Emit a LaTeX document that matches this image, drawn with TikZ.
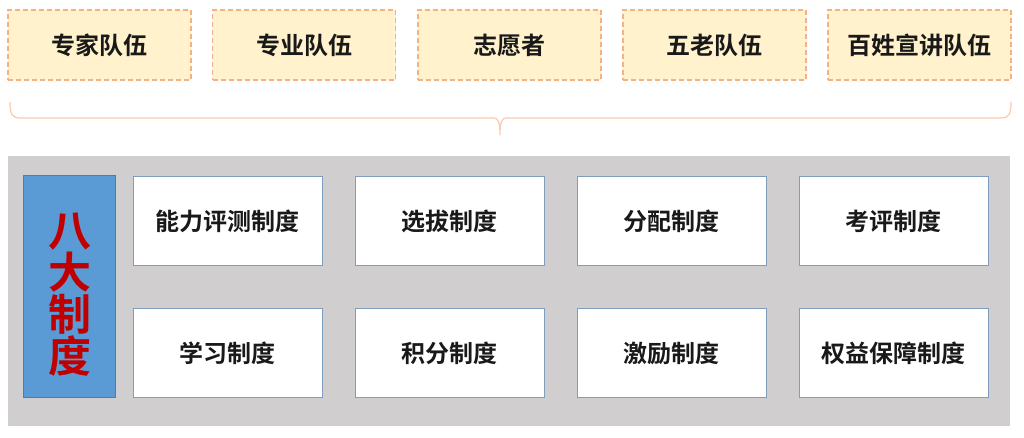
\documentclass[tikz,border=0pt]{standalone}
\usepackage{fontspec}
\newfontfamily\cjkb{Noto Sans CJK SC Bold}
\definecolor{teamfill}{HTML}{FFF2CC}
\definecolor{teamline}{HTML}{F4B183}
\definecolor{bracecol}{HTML}{F8CBAD}
\definecolor{panelgray}{HTML}{D0CECE}
\definecolor{bluefill}{HTML}{5B9BD5}
\definecolor{blueline}{HTML}{4A7EB0}
\definecolor{boxline}{HTML}{7F9DBF}
\definecolor{redtext}{HTML}{C00000}
\tikzset{
  x=1pt,y=1pt,
  team/.style={draw=teamline,fill=teamfill,dashed,dash pattern=on 5pt off 3pt,line width=1.3pt,
    minimum width=183pt,minimum height=70pt,inner sep=0pt,font=\cjkb\fontsize{24}{26}\selectfont,text=black!90},
  sysbox/.style={draw=boxline,fill=white,line width=1pt,minimum width=189pt,minimum height=89pt,
    inner sep=0pt,font=\cjkb\fontsize{24}{26}\selectfont,text=black!90},
}
\begin{document}
\begin{tikzpicture}
\useasboundingbox (0,0) rectangle (1024,438);
% top team boxes
\node[team] (t1) at (99.5,393) {专家队伍};
\node[team] (t2) at (304,393) {专业队伍};
\node[team] (t3) at (509.5,393) {志愿者};
\node[team] (t4) at (714.5,393) {五老队伍};
\node[team] (t5) at (919.5,393) {百姓宣讲队伍};
% brace
\coordinate (bl) at (10,336);
\coordinate (br) at (1011,336);
\coordinate (bm) at (500,303);
\draw[bracecol,line width=1.2pt]
  (bl) .. controls (10,324) and (12,320) .. (20,320) -- (494,320)
  .. controls (498,320) and (500,316) .. (bm)
  .. controls (500,316) and (502,320) .. (506,320) -- (1001,320)
  .. controls (1009,320) and (1011,324) .. (br);
% gray panel
\node[fill=panelgray,minimum width=1002pt,minimum height=270pt,inner sep=0pt,anchor=south west] (panel) at (8,12) {};
% blue title box
\node[draw=blueline,fill=bluefill,line width=1pt,minimum width=92pt,minimum height=222pt,inner sep=0pt,
  anchor=south west] (title) at (23,40) {};
\node[align=center,text=redtext,font=\cjkb\fontsize{43}{42}\selectfont,inner sep=0pt] (titletext)
  at ([yshift=-8pt]title.center) {八\\大\\制\\度};
% system boxes
\node[sysbox] (s1) at (227.5,216.5) {能力评测制度};
\node[sysbox] (s2) at (449.5,216.5) {选拔制度};
\node[sysbox] (s3) at (671.5,216.5) {分配制度};
\node[sysbox] (s4) at (893.5,216.5) {考评制度};
\node[sysbox] (s5) at (227.5,84.5) {学习制度};
\node[sysbox] (s6) at (449.5,84.5) {积分制度};
\node[sysbox] (s7) at (671.5,84.5) {激励制度};
\node[sysbox] (s8) at (893.5,84.5) {权益保障制度};
\end{tikzpicture}
\end{document}
